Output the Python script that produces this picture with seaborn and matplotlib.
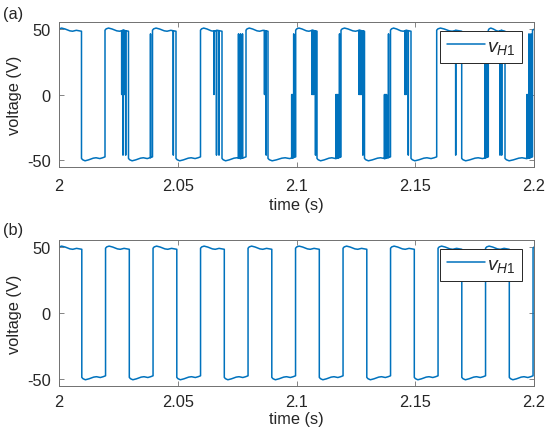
import numpy as np
import pandas as pd
import matplotlib
matplotlib.use("Agg")
import matplotlib.pyplot as plt
import seaborn as sns

# ---------------- data ----------------
time_ticks = [2, 2.05, 2.1, 2.15, 2.2]
time_tick_labels = ["2", "2.05", "2.1", "2.15", "2.2"]
volt_ticks = [-50, 0, 50]
volt_tick_labels = ["-50", "0", "50"]

# ripple shape of one half cycle (position as a fraction of the half cycle, volts)
ripple_frac = [0, 0.05, 0.15, 0.3, 0.5, 0.62, 0.78, 0.9, 1.0]
ripple_high = [48.8, 49.8, 50.4, 49.7, 48.3, 48.0, 48.7, 48.3, 48.0]
ripple_low = [-48.5, -49.5, -50.3, -49.6, -48.3, -48.0, -48.6, -48.0, -47.3]

# panel (b): switching instants (s)
b_rises = [1.9996, 2.0196, 2.0396, 2.0596, 2.0796, 2.0996, 2.1196, 2.1396, 2.1596, 2.1796, 2.1996]
b_falls = [2.0096, 2.0296, 2.0496, 2.0696, 2.0896, 2.1096, 2.1296, 2.1496, 2.1696, 2.1896, 2.2096]

# panel (a): switching instants (s)
a_rises = [1.9996, 2.01937, 2.03937, 2.05958, 2.07874, 2.09966, 2.11874, 2.13958, 2.15903, 2.18076, 2.19937]
a_falls = [2.00947, 2.02926, 2.04926, 2.06863, 2.08800, 2.10863, 2.12863, 2.14821, 2.16956, 2.18779, 2.2194]

# panel (a): spurious short pulses (time in s, level reached in V)
a_spike_t = [2.02640, 2.02665, 2.02695, 2.02724, 2.02749, 2.02808,
             2.03853, 2.04813,
             2.06526, 2.06632, 2.06737,
             2.07558, 2.07642, 2.07726,
             2.08653, 2.08686, 2.08724,
             2.09798, 2.09840, 2.09882,
             2.10653, 2.10695, 2.10728, 2.10800,
             2.11663, 2.11705, 2.11747, 2.11811,
             2.12632, 2.12674, 2.12716, 2.12758, 2.12792,
             2.13705, 2.13747, 2.13789, 2.13874,
             2.14568, 2.14611, 2.14707,
             2.16703,
             2.17937, 2.18008,
             2.18568, 2.18640,
             2.19705, 2.19747, 2.19789, 2.19832, 2.19874]
a_spike_v = [0, 0, -46, 0, 0, -46,
             46, -46,
             0, -46, -46,
             46, 46, 46,
             0, 0, -46,
             0, 0, 46,
             0, 0, 0, -46,
             0, 0, 0, 46,
             0, 0, 0, 0, -46,
             0, 0, 0, 46,
             0, 0, -46,
             -46,
             46, 46,
             -46, -46,
             0, 0, 46, 0, 46]

legend_label = r"$\mathit{v}_{\mathit{H1}}$"
line_color = "#0072BD"


def build(rises, falls, spike_t=(), spike_v=()):
    edges = sorted([(t, "r") for t in rises] + [(t, "f") for t in falls])
    xs, ys = [], []
    for (t0, kind), (t1, _) in zip(edges[:-1], edges[1:]):
        shape = np.array(ripple_high if kind == "r" else ripple_low)
        seg_t = t0 + np.array(ripple_frac) * (t1 - t0)
        pts = list(zip(seg_t, shape))
        for ts, lv in zip(spike_t, spike_v):
            if t0 < ts < t1:
                base = float(np.interp(ts, seg_t, shape))
                pts += [(ts, base), (ts + 1e-6, lv), (ts + 2e-6, lv), (ts + 3e-6, base)]
        pts.sort(key=lambda p: p[0])
        for p in pts:
            xs.append(p[0])
            ys.append(p[1])
    return pd.DataFrame({"time": xs, "voltage": ys})


df_a = build(a_rises, a_falls, a_spike_t, a_spike_v)
df_b = build(b_rises, b_falls)

# ---------------- style ----------------
sns.set_style("ticks")
plt.rcParams["font.family"] = ["Liberation Sans", "DejaVu Sans"]
plt.rcParams["axes.unicode_minus"] = False
plt.rcParams["mathtext.fontset"] = "custom"
plt.rcParams["mathtext.it"] = "Liberation Sans:italic"
plt.rcParams["mathtext.rm"] = "Liberation Sans"

W, H = 550, 439
fig = plt.figure(figsize=(W / 100, H / 100), dpi=100)
ax_a = fig.add_axes([59 / W, 1 - 168 / H, 475 / W, 145 / H])
ax_b = fig.add_axes([59 / W, 1 - 387 / H, 475 / W, 146 / H])

frame_col = "#707070"
text_col = "#262626"
fs = 11.8

panels = [(ax_a, df_a, "(a)", 14.5, 8, -0.21),
          (ax_b, df_b, "(b)", 230.5, 6, -0.17)]
for ax, df, tag, ty, xpad, xlab_y in panels:
    sns.lineplot(data=df, x="time", y="voltage", sort=False, estimator=None,
                 color=line_color, linewidth=1.1, label=legend_label, ax=ax)
    ax.set_xlim(2, 2.2)
    ax.set_ylim(-55, 55)
    ax.set_xticks(time_ticks)
    ax.set_xticklabels(time_tick_labels)
    ax.set_yticks(volt_ticks)
    ax.set_yticklabels(volt_tick_labels)
    ax.tick_params(direction="in", top=True, right=True, length=3.3, width=0.6,
                   color=frame_col, labelsize=fs, labelcolor=text_col)
    ax.tick_params(axis="x", pad=xpad)
    ax.tick_params(axis="y", pad=6)
    for s in ax.spines.values():
        s.set_visible(True)
        s.set_color(frame_col)
        s.set_linewidth(0.7)
    ax.set_xlabel("time (s)", fontsize=fs, color=text_col)
    ax.set_ylabel("voltage (V)", fontsize=fs, color=text_col)
    ax.xaxis.set_label_coords(0.5, xlab_y)
    ax.yaxis.set_label_coords(-0.078, 0.5)
    leg = ax.legend(loc="upper right", bbox_to_anchor=((522.3 - 59) / 475, 0.94),
                    borderaxespad=0, fontsize=14, handlelength=1.95, handletextpad=0.1,
                    borderpad=0.35, fancybox=False, framealpha=1, edgecolor=text_col)
    leg.get_frame().set_linewidth(0.7)
    fig.text(3 / W, 1 - ty / H, tag, fontsize=fs, color=text_col, va="center", ha="left")

fig.savefig("out.png", dpi=100)
